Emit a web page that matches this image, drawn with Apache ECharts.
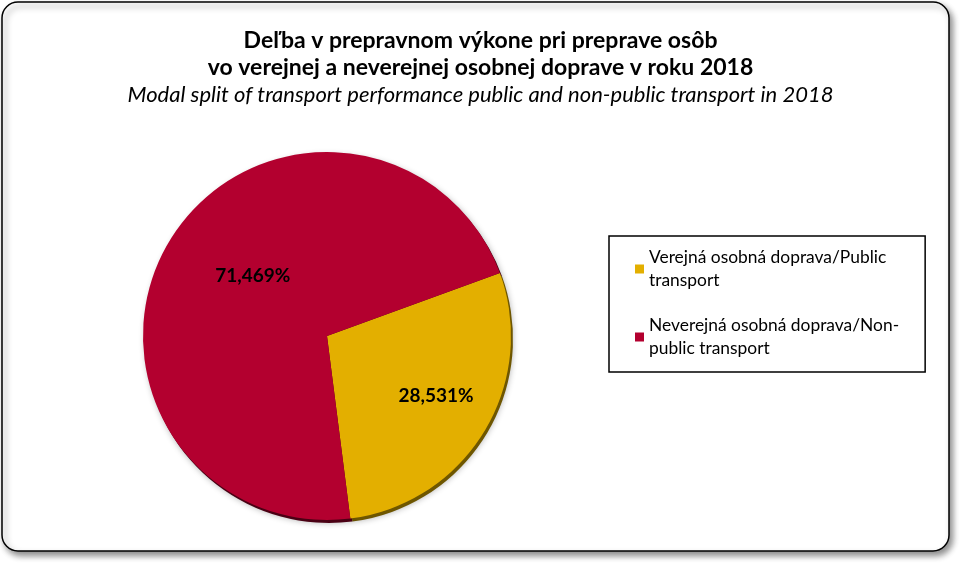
<!DOCTYPE html>
<html>
<head>
<meta charset="utf-8">
<script src="https://cdn.jsdelivr.net/npm/echarts@6/dist/echarts.min.js"></script>
<style>
  html, body { margin: 0; padding: 0; background: #fff; }
  #main { width: 961px; height: 566px; }
</style>
</head>
<body>
<div id="main"></div>
<script>
// categories and values (podiel v %)
var categories = ['Verejná osobná doprava/Public\ntransport', 'Neverejná osobná doprava/Non-\npublic transport'];
var shares = [28.531, 71.469];
var sliceColors = ['#E3AF00', '#B3002F'];
var edgeColors = ['#6E5600', '#4A0014'];

var titleLines = 'Deľba v prepravnom výkone pri preprave osôb\nvo verejnej a neverejnej osobnej doprave v roku 2018';
var subTitle = 'Modal split of transport performance public and non-public transport in 2018';

var chart = echarts.init(document.getElementById('main'));

var pieData = categories.map(function (name, i) {
    return { name: name, value: shares[i], itemStyle: { color: sliceColors[i] } };
});
var edgeData = categories.map(function (name, i) {
    return { name: name, value: shares[i], itemStyle: { color: edgeColors[i] } };
});

var option = {
    backgroundColor: '#fff',
    graphic: [{
        type: 'rect',
        z: -10,
        shape: { x: 2, y: 2, width: 947, height: 549, r: 16 },
        style: {
            fill: '#fff',
            stroke: '#000',
            lineWidth: 1.5,
            shadowBlur: 6,
            shadowOffsetX: 3,
            shadowOffsetY: 4,
            shadowColor: 'rgba(0,0,0,0.45)'
        }
    }],
    title: {
        left: 'center',
        top: 22,
        text: titleLines,
        subtext: subTitle,
        itemGap: 3,
        textStyle: {
            fontFamily: 'Lato',
            fontWeight: 'bold',
            fontSize: 23,
            lineHeight: 27,
            color: '#000'
        },
        subtextStyle: {
            fontFamily: 'Lato',
            fontStyle: 'italic',
            fontSize: 22,
            color: '#000'
        }
    },
    legend: {
        orient: 'vertical',
        left: 609,
        top: 236,
        padding: [10, 26, 12, 26],
        borderColor: '#000',
        borderWidth: 1.5,
        itemWidth: 9,
        itemHeight: 9,
        itemGap: 22,
        icon: 'rect',
        selectedMode: false,
        textStyle: {
            fontFamily: 'Lato',
            fontSize: 17.4,
            lineHeight: 23,
            color: '#000'
        },
        data: categories
    },
    series: [{
        // front pie
        type: 'pie',
        z: 3,
        center: [327, 336],
        radius: 184,
        startAngle: 20,
        clockwise: true,
        percentPrecision: 3,
        silent: true,
        label: {
            position: 'inside',
            fontFamily: 'Lato',
            fontWeight: 'bold',
            fontSize: 19,
            color: '#000',
            formatter: function (p) {
                return p.percent.toFixed(3).replace('.', ',') + '%';
            }
        },
        labelLayout: function (p) {
            return p.dataIndex === 0 ? { dx: 28, dy: 10 } : { dx: 7, dy: -11 };
        },
        itemStyle: { borderWidth: 0 },
        data: pieData
    }, {
        // dark bevel edge behind
        type: 'pie',
        z: 1,
        center: [329, 339],
        radius: 184,
        startAngle: 20,
        clockwise: true,
        silent: true,
        label: { show: false },
        labelLine: { show: false },
        itemStyle: {
            borderWidth: 0,
            shadowBlur: 6,
            shadowColor: 'rgba(0,0,0,0.3)'
        },
        data: edgeData
    }]
};

chart.setOption(option);
</script>
</body>
</html>
